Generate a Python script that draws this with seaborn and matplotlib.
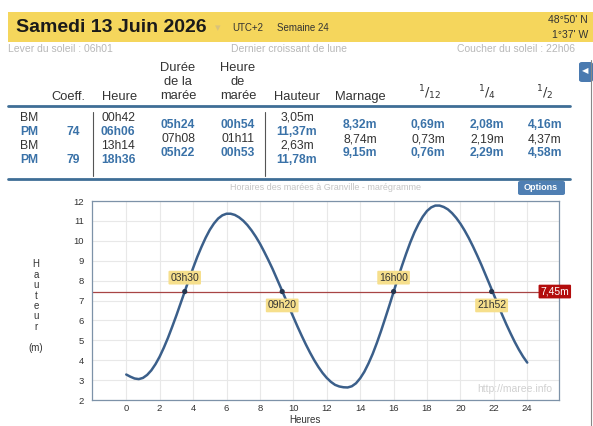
import matplotlib
matplotlib.use("Agg")
import matplotlib.pyplot as plt
from matplotlib.patches import Rectangle, FancyBboxPatch
from matplotlib.lines import Line2D
import pandas as pd
import seaborn as sns

hours = [i * 0.25 for i in range(97)]
heights = [3.28, 3.17, 3.08, 3.05, 3.11, 3.26, 3.49, 3.80, 4.18, 4.63, 5.13, 5.68, 6.25,
           6.85, 7.45, 8.05, 8.63, 9.19, 9.69, 10.15, 10.55, 10.87, 11.12, 11.28, 11.36,
           11.36, 11.30, 11.18, 11.01, 10.79, 10.52, 10.21, 9.86, 9.46, 9.04, 8.60, 8.12,
           7.64, 7.15, 6.65, 6.17, 5.69, 5.23, 4.79, 4.38, 4.00, 3.66, 3.36, 3.11,
           2.91, 2.76, 2.68, 2.64, 2.63, 2.69, 2.84, 3.09, 3.42, 3.84, 4.32, 4.87,
           5.47, 6.11, 6.76, 7.43, 8.10, 8.74, 9.35, 9.92, 10.43, 10.86, 11.22, 11.50,
           11.68, 11.77, 11.77, 11.70, 11.58, 11.39, 11.15, 10.86, 10.52, 10.14, 9.72, 9.27,
           8.80, 8.30, 7.80, 7.29, 6.78, 6.28, 5.80, 5.35, 4.92, 4.53, 4.18, 3.88]

level = 7.45
level_label = "7,45m"
cross_times = [3.5, 9.333, 16.0, 21.867]
cross_labels = ["03h30", "09h20", "16h00", "21h52"]
cross_above = [True, False, True, False]

# tide table
tide_type = ["BM", "PM", "BM", "PM"]
coeffs = ["", "74", "", "79"]
tide_hours = ["00h42", "06h06", "13h14", "18h36"]
tide_heights = ["3,05m", "11,37m", "2,63m", "11,78m"]
durations = ["05h24", "07h08", "05h22"]
tide_hour_len = ["00h54", "01h11", "00h53"]
marnage = ["8,32m", "8,74m", "9,15m"]
twelfth = ["0,69m", "0,73m", "0,76m"]
quarter = ["2,08m", "2,19m", "2,29m"]
half = ["4,16m", "4,37m", "4,58m"]

W, H = 593, 426
BLUE = "#3a72a8"
DARK = "#333333"
LIGHT = "#b8b8b8"

sns.set_style("whitegrid")
plt.rcParams["font.family"] = ["Liberation Sans", "DejaVu Sans"]

fig = plt.figure(figsize=(W / 100, H / 100), dpi=100)
fig.patch.set_facecolor("white")


def px(x, y):
    return x / W, 1 - y / H


def ftext(x, y, s, **kw):
    kw.setdefault("va", "center")
    fig.text(*px(x, y), s, **kw)


# header band
fig.patches.append(Rectangle(px(8, 42), (593 - 8) / W, 30 / H, transform=fig.transFigure,
                             facecolor="#f5d65c", edgecolor="none", zorder=0))
ftext(16, 27, "Samedi 13 Juin 2026", fontsize=14, fontweight="bold", color="#1a1a1a")
ftext(215, 28, "▾", fontsize=8, color="#d9c27a")
ftext(232, 28, "UTC+2", fontsize=7, color=DARK)
ftext(277, 28, "Semaine 24", fontsize=7, color=DARK)
ftext(588, 20, "48°50' N", fontsize=7.5, color=DARK, ha="right")
ftext(588, 35, "1°37' W", fontsize=7.5, color=DARK, ha="right")

ftext(8, 49, "Lever du soleil : 06h01", fontsize=7.5, color=LIGHT)
ftext(289, 49, "Dernier croissant de lune", fontsize=7.5, color=LIGHT, ha="center")
ftext(575, 49, "Coucher du soleil : 22h06", fontsize=7.5, color=LIGHT, ha="right")

# table header
hdr = dict(fontsize=9.3, color=DARK, ha="center")
ftext(68, 97, "Coeff.", **hdr)
ftext(120, 97, "Heure", **hdr)
ftext(178, 82, "Durée\nde la\nmarée", linespacing=1.25, **hdr)
ftext(238, 82, "Heure\nde\nmarée", linespacing=1.25, **hdr)
ftext(297, 97, "Hauteur", **hdr)
ftext(360, 97, "Marnage", **hdr)
ftext(430, 93, r"$^{1}/_{12}$", **hdr)
ftext(487, 93, r"$^{1}/_{4}$", **hdr)
ftext(545, 93, r"$^{1}/_{2}$", **hdr)

for yy in (106, 179):
    fig.lines.append(Line2D([8 / W, 570 / W], [1 - yy / H] * 2, transform=fig.transFigure,
                            color="#3f6e96", lw=2))
for xx in (93, 265):
    fig.lines.append(Line2D([xx / W] * 2, [1 - 112 / H, 1 - 176 / H], transform=fig.transFigure,
                            color="#555555", lw=0.8))

row_y = [118, 132, 146, 160]
for i, yy in enumerate(row_y):
    pm = tide_type[i] == "PM"
    st = dict(fontsize=8.7, color=BLUE if pm else DARK, fontweight="bold" if pm else "normal")
    ftext(20, yy, tide_type[i], **st)
    ftext(73, yy, coeffs[i], ha="center", **st)
    ftext(118, yy, tide_hours[i], ha="center", **st)
    ftext(297, yy, tide_heights[i], ha="center", **st)

mid_y = [125, 139, 153]
for i, yy in enumerate(mid_y):
    hi = i != 1
    st = dict(fontsize=8.7, ha="center", color=BLUE if hi else DARK,
              fontweight="bold" if hi else "normal")
    ftext(178, yy, durations[i], **st)
    ftext(238, yy, tide_hour_len[i], **st)
    ftext(360, yy, marnage[i], **st)
    ftext(428, yy, twelfth[i], **st)
    ftext(487, yy, quarter[i], **st)
    ftext(545, yy, half[i], **st)

# right side tab and border
fig.patches.append(FancyBboxPatch(px(579, 82), 14 / W, 20 / H, boxstyle="round,pad=0,rounding_size=0.005",
                                  transform=fig.transFigure, facecolor="#4a7ab0", edgecolor="none"))
ftext(585, 72, "◀", fontsize=6, color="white", ha="center")
fig.lines.append(Line2D([591 / W] * 2, [1 - 60 / H, 0], transform=fig.transFigure,
                        color="#888888", lw=0.8))

# chart title and options button
ftext(325, 188, "Horaires des marées à Granville - marégramme", fontsize=6.5, color="#c4c4c4", ha="center")
fig.patches.append(FancyBboxPatch(px(518, 195), 47 / W, 14 / H, boxstyle="round,pad=0,rounding_size=0.004",
                                  transform=fig.transFigure, facecolor="#4f7fb3", edgecolor="none"))
ftext(541, 187, "Options", fontsize=6.5, color="white", ha="center", fontweight="bold")

# axes
ax = fig.add_axes([92 / W, 1 - 400 / H, (559 - 92) / W, (400 - 201) / H])
df = pd.DataFrame({"Heures": hours, "Hauteur": heights})
sns.lineplot(data=df, x="Heures", y="Hauteur", ax=ax, color="#3b5f8a", lw=1.8)
ax.axhline(level, color="#a84545", lw=0.9, zorder=1)
pts = pd.DataFrame({"t": cross_times, "h": [level] * len(cross_times)})
sns.scatterplot(data=pts, x="t", y="h", ax=ax, color="#26364f", s=14, zorder=4, edgecolor="none")

for t, lab, up in zip(cross_times, cross_labels, cross_above):
    ax.annotate(lab, (t, level), xytext=(0, 10 if up else -10), textcoords="offset points",
                ha="center", va="center", fontsize=7.5, color="#333333",
                bbox=dict(boxstyle="round,pad=0.18,rounding_size=0.1", fc="#f6df8c", ec="none"))

ax.text(0.991, level, level_label, transform=ax.get_yaxis_transform(), ha="center", va="center",
        fontsize=7.5, color="white", clip_on=False, zorder=5,
        bbox=dict(boxstyle="round,pad=0.18,rounding_size=0.1", fc="#b30d0d", ec="none"))

ax.text(0.985, 0.03, "http://maree.info", transform=ax.transAxes, ha="right", va="bottom",
        fontsize=7.5, color="#d0d0d0")

ax.set_xlim(-2.05, 25.9)
ax.set_ylim(2, 12)
ax.set_xticks(range(0, 25, 2))
ax.set_yticks(range(2, 13))
ax.tick_params(labelsize=6.8, colors="#333333", length=0)
ax.tick_params(axis="x", pad=3)
ax.tick_params(axis="y", pad=6)
ax.grid(True, color="#e8e8e8", lw=0.8)
for s in ax.spines.values():
    s.set_color("#7d92a8")
    s.set_linewidth(0.9)
ax.set_xlabel("")
ax.set_ylabel("")
ftext(305, 420, "Heures", fontsize=7, color=DARK, ha="center")
ftext(36, 306, "H\na\nu\nt\ne\nu\nr\n\n(m)", fontsize=7, color=DARK, ha="center", linespacing=1.05)

fig.savefig("out.png", dpi=100)
